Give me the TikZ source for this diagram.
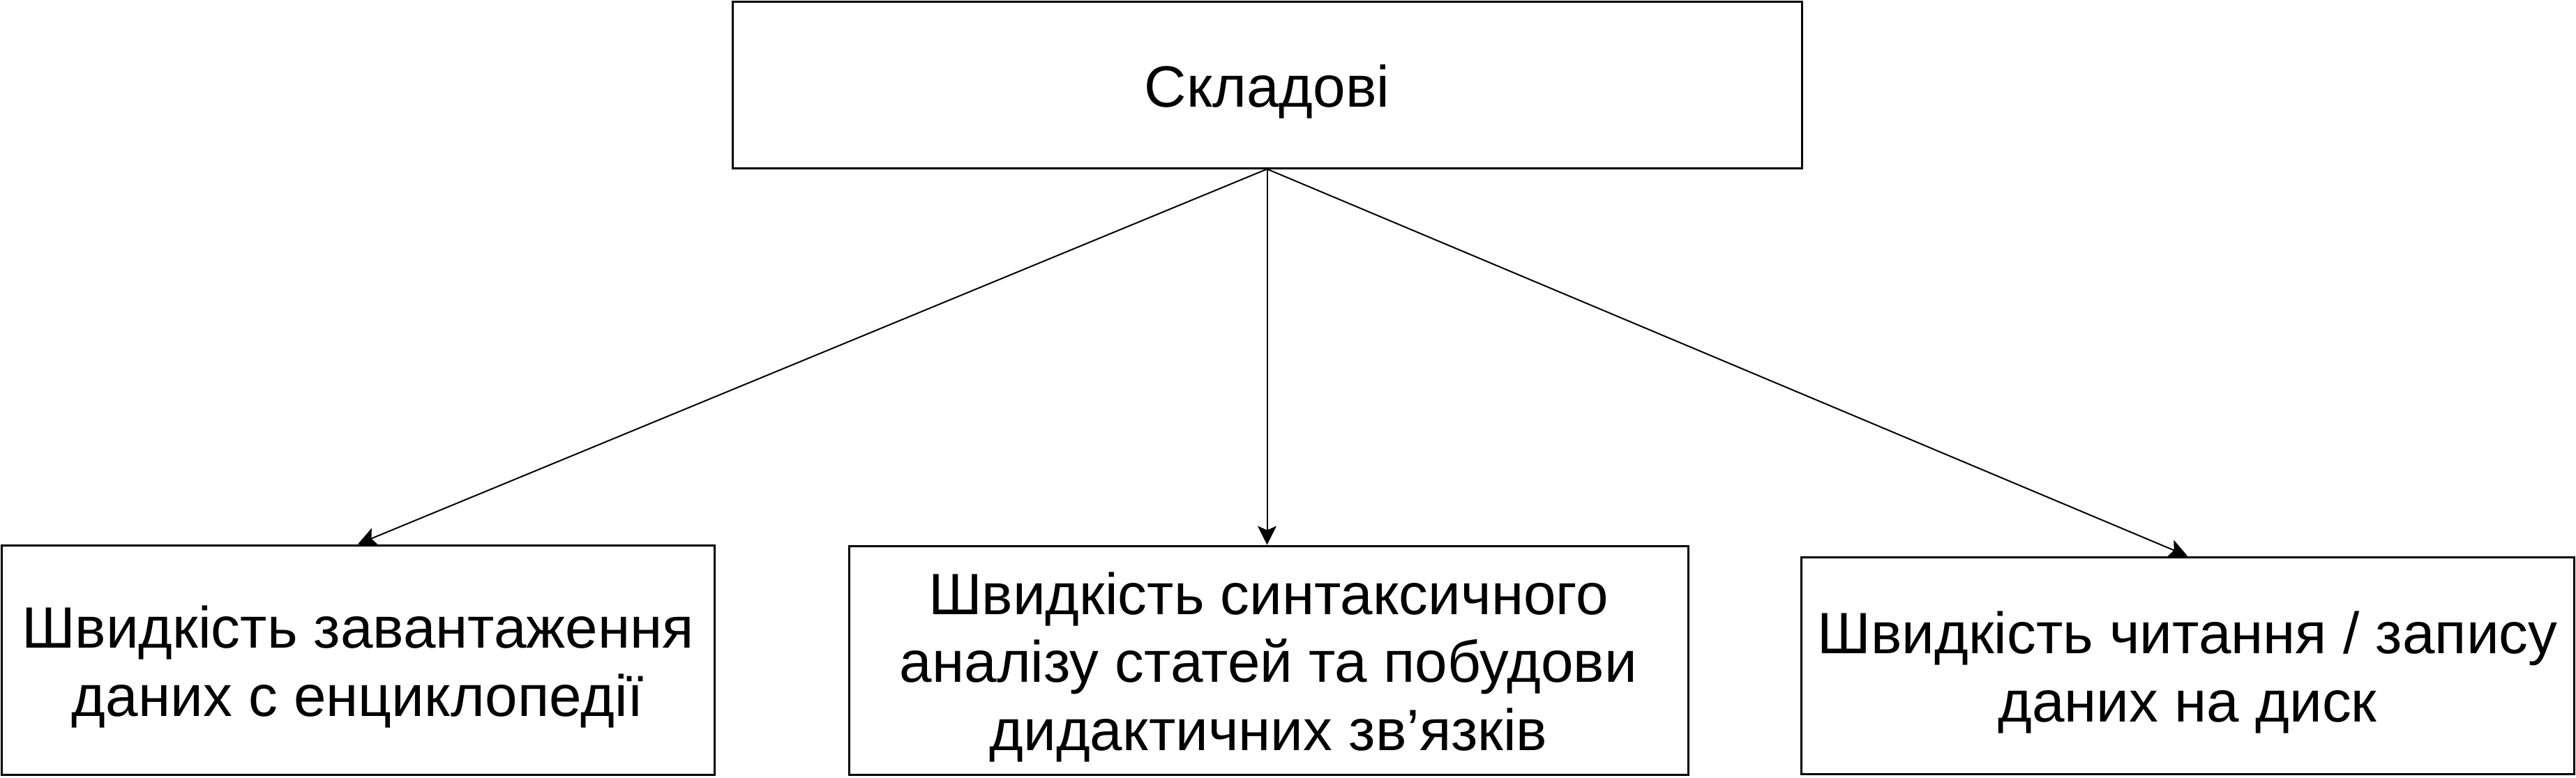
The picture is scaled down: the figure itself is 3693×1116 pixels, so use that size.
\documentclass[tikz,border=0pt]{standalone}
\usepackage{fontspec}
\setmainfont{Liberation Sans}
\usetikzlibrary{arrows.meta}
\tikzset{
  box/.style={draw=black, line width=0.3mm, fill=white, rectangle, inner sep=0pt},
  txt/.style={inner sep=0pt, align=center, font=\fontsize{23.8pt}{27.8pt}\selectfont},
  arr/.style={draw=black, line width=0.2mm,
    -{Stealth[length=2.7mm, width=2.7mm, inset=0.6mm]}}
}
\begin{document}
\begin{tikzpicture}[x=0.1mm, y=-0.1mm]
\useasboundingbox (0,0) rectangle (3693,1116);
\node[box, minimum width=153.3mm, minimum height=23.9mm] (top) at (1816.5,121.5) {};
\node[box, minimum width=102.2mm, minimum height=32.9mm] (left) at (513,946.5) {};
\node[box, minimum width=120.3mm, minimum height=32.8mm] (mid) at (1818.5,947) {};
\node[box, minimum width=110.8mm, minimum height=31.1mm] (right) at (3136,954.5) {};
\node[txt] (topt) at ([yshift=-1mm]top.center) {Складові};
\node[txt] (leftt) at ([yshift=-1mm]left.center)
  {Швидкість завантаження\\даних с енциклопедії};
\node[txt] (midt) at ([yshift=-1mm]mid.center)
  {Швидкість синтаксичного\\аналізу статей та побудови\\дидактичних зв’язків};
\node[txt] (rightt) at ([yshift=-1mm]right.center)
  {Швидкість читання / запису\\даних на диск};
\draw[arr] (top.south) -- (left.north);
\draw[arr] (top.south) -- (top.south |- mid.north);
\draw[arr] (top.south) -- (right.north);
\end{tikzpicture}
\end{document}
